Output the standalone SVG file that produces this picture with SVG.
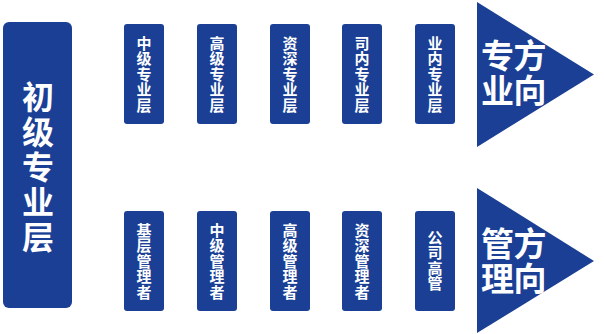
<svg xmlns="http://www.w3.org/2000/svg" width="604" height="334" viewBox="0 0 604 334">
<style>
.box{fill:#1a3f95;}
.t{fill:#ffffff;font-family:"Noto Sans CJK SC","Noto Sans",sans-serif;font-weight:bold;text-anchor:middle;}
.s{font-size:15px;}
.b{font-size:32px;}
.a{font-size:33px;}
</style>
<rect width="604" height="334" fill="#ffffff"/>
<g id="n-main">
<rect class="box" x="3" y="22" width="69" height="286" rx="6"/>
<text class="t b"><tspan x="38" y="109">初</tspan><tspan x="38" y="144">级</tspan><tspan x="38" y="179">专</tspan><tspan x="38" y="214">业</tspan><tspan x="38" y="249">层</tspan></text>
</g>
<g id="n-t1">
<rect class="box" x="124" y="24" width="40" height="100" rx="3"/>
<text class="t s"><tspan x="144" y="48.7">中</tspan><tspan x="144" y="64.2">级</tspan><tspan x="144" y="79.7">专</tspan><tspan x="144" y="95.2">业</tspan><tspan x="144" y="110.7">层</tspan></text>
</g>
<g id="n-t2">
<rect class="box" x="197" y="24" width="40" height="100" rx="3"/>
<text class="t s"><tspan x="217" y="48.7">高</tspan><tspan x="217" y="64.2">级</tspan><tspan x="217" y="79.7">专</tspan><tspan x="217" y="95.2">业</tspan><tspan x="217" y="110.7">层</tspan></text>
</g>
<g id="n-t3">
<rect class="box" x="270" y="24" width="40" height="100" rx="3"/>
<text class="t s"><tspan x="290" y="48.7">资</tspan><tspan x="290" y="64.2">深</tspan><tspan x="290" y="79.7">专</tspan><tspan x="290" y="95.2">业</tspan><tspan x="290" y="110.7">层</tspan></text>
</g>
<g id="n-t4">
<rect class="box" x="342" y="24" width="40" height="100" rx="3"/>
<text class="t s"><tspan x="362" y="48.7">司</tspan><tspan x="362" y="64.2">内</tspan><tspan x="362" y="79.7">专</tspan><tspan x="362" y="95.2">业</tspan><tspan x="362" y="110.7">层</tspan></text>
</g>
<g id="n-t5">
<rect class="box" x="415" y="24" width="40" height="100" rx="3"/>
<text class="t s"><tspan x="435" y="48.7">业</tspan><tspan x="435" y="64.2">内</tspan><tspan x="435" y="79.7">专</tspan><tspan x="435" y="95.2">业</tspan><tspan x="435" y="110.7">层</tspan></text>
</g>
<g id="n-b1">
<rect class="box" x="124" y="211" width="40" height="100" rx="3"/>
<text class="t s"><tspan x="144" y="235.7">基</tspan><tspan x="144" y="251.2">层</tspan><tspan x="144" y="266.7">管</tspan><tspan x="144" y="282.2">理</tspan><tspan x="144" y="297.7">者</tspan></text>
</g>
<g id="n-b2">
<rect class="box" x="197" y="211" width="40" height="100" rx="3"/>
<text class="t s"><tspan x="217" y="235.7">中</tspan><tspan x="217" y="251.2">级</tspan><tspan x="217" y="266.7">管</tspan><tspan x="217" y="282.2">理</tspan><tspan x="217" y="297.7">者</tspan></text>
</g>
<g id="n-b3">
<rect class="box" x="270" y="211" width="40" height="100" rx="3"/>
<text class="t s"><tspan x="290" y="235.7">高</tspan><tspan x="290" y="251.2">级</tspan><tspan x="290" y="266.7">管</tspan><tspan x="290" y="282.2">理</tspan><tspan x="290" y="297.7">者</tspan></text>
</g>
<g id="n-b4">
<rect class="box" x="342" y="211" width="40" height="100" rx="3"/>
<text class="t s"><tspan x="362" y="235.7">资</tspan><tspan x="362" y="251.2">深</tspan><tspan x="362" y="266.7">管</tspan><tspan x="362" y="282.2">理</tspan><tspan x="362" y="297.7">者</tspan></text>
</g>
<g id="n-b5">
<rect class="box" x="415" y="211" width="40" height="100" rx="3"/>
<text class="t s"><tspan x="435" y="242.5">公</tspan><tspan x="435" y="258">司</tspan><tspan x="435" y="273.5">高</tspan><tspan x="435" y="289">管</tspan></text>
</g>
<g id="n-arrow-top">
<polygon class="box" points="477,2 594,74.5 477,147"/>
<text class="t a"><tspan x="497.5" y="68">专</tspan><tspan x="497.5" y="103">业</tspan><tspan x="530" y="68">方</tspan><tspan x="530" y="103">向</tspan></text>
</g>
<g id="n-arrow-bottom">
<polygon class="box" points="477,188 594,261 477,333"/>
<text class="t a"><tspan x="497.5" y="256">管</tspan><tspan x="497.5" y="291">理</tspan><tspan x="530" y="256">方</tspan><tspan x="530" y="291">向</tspan></text>
</g>
</svg>
